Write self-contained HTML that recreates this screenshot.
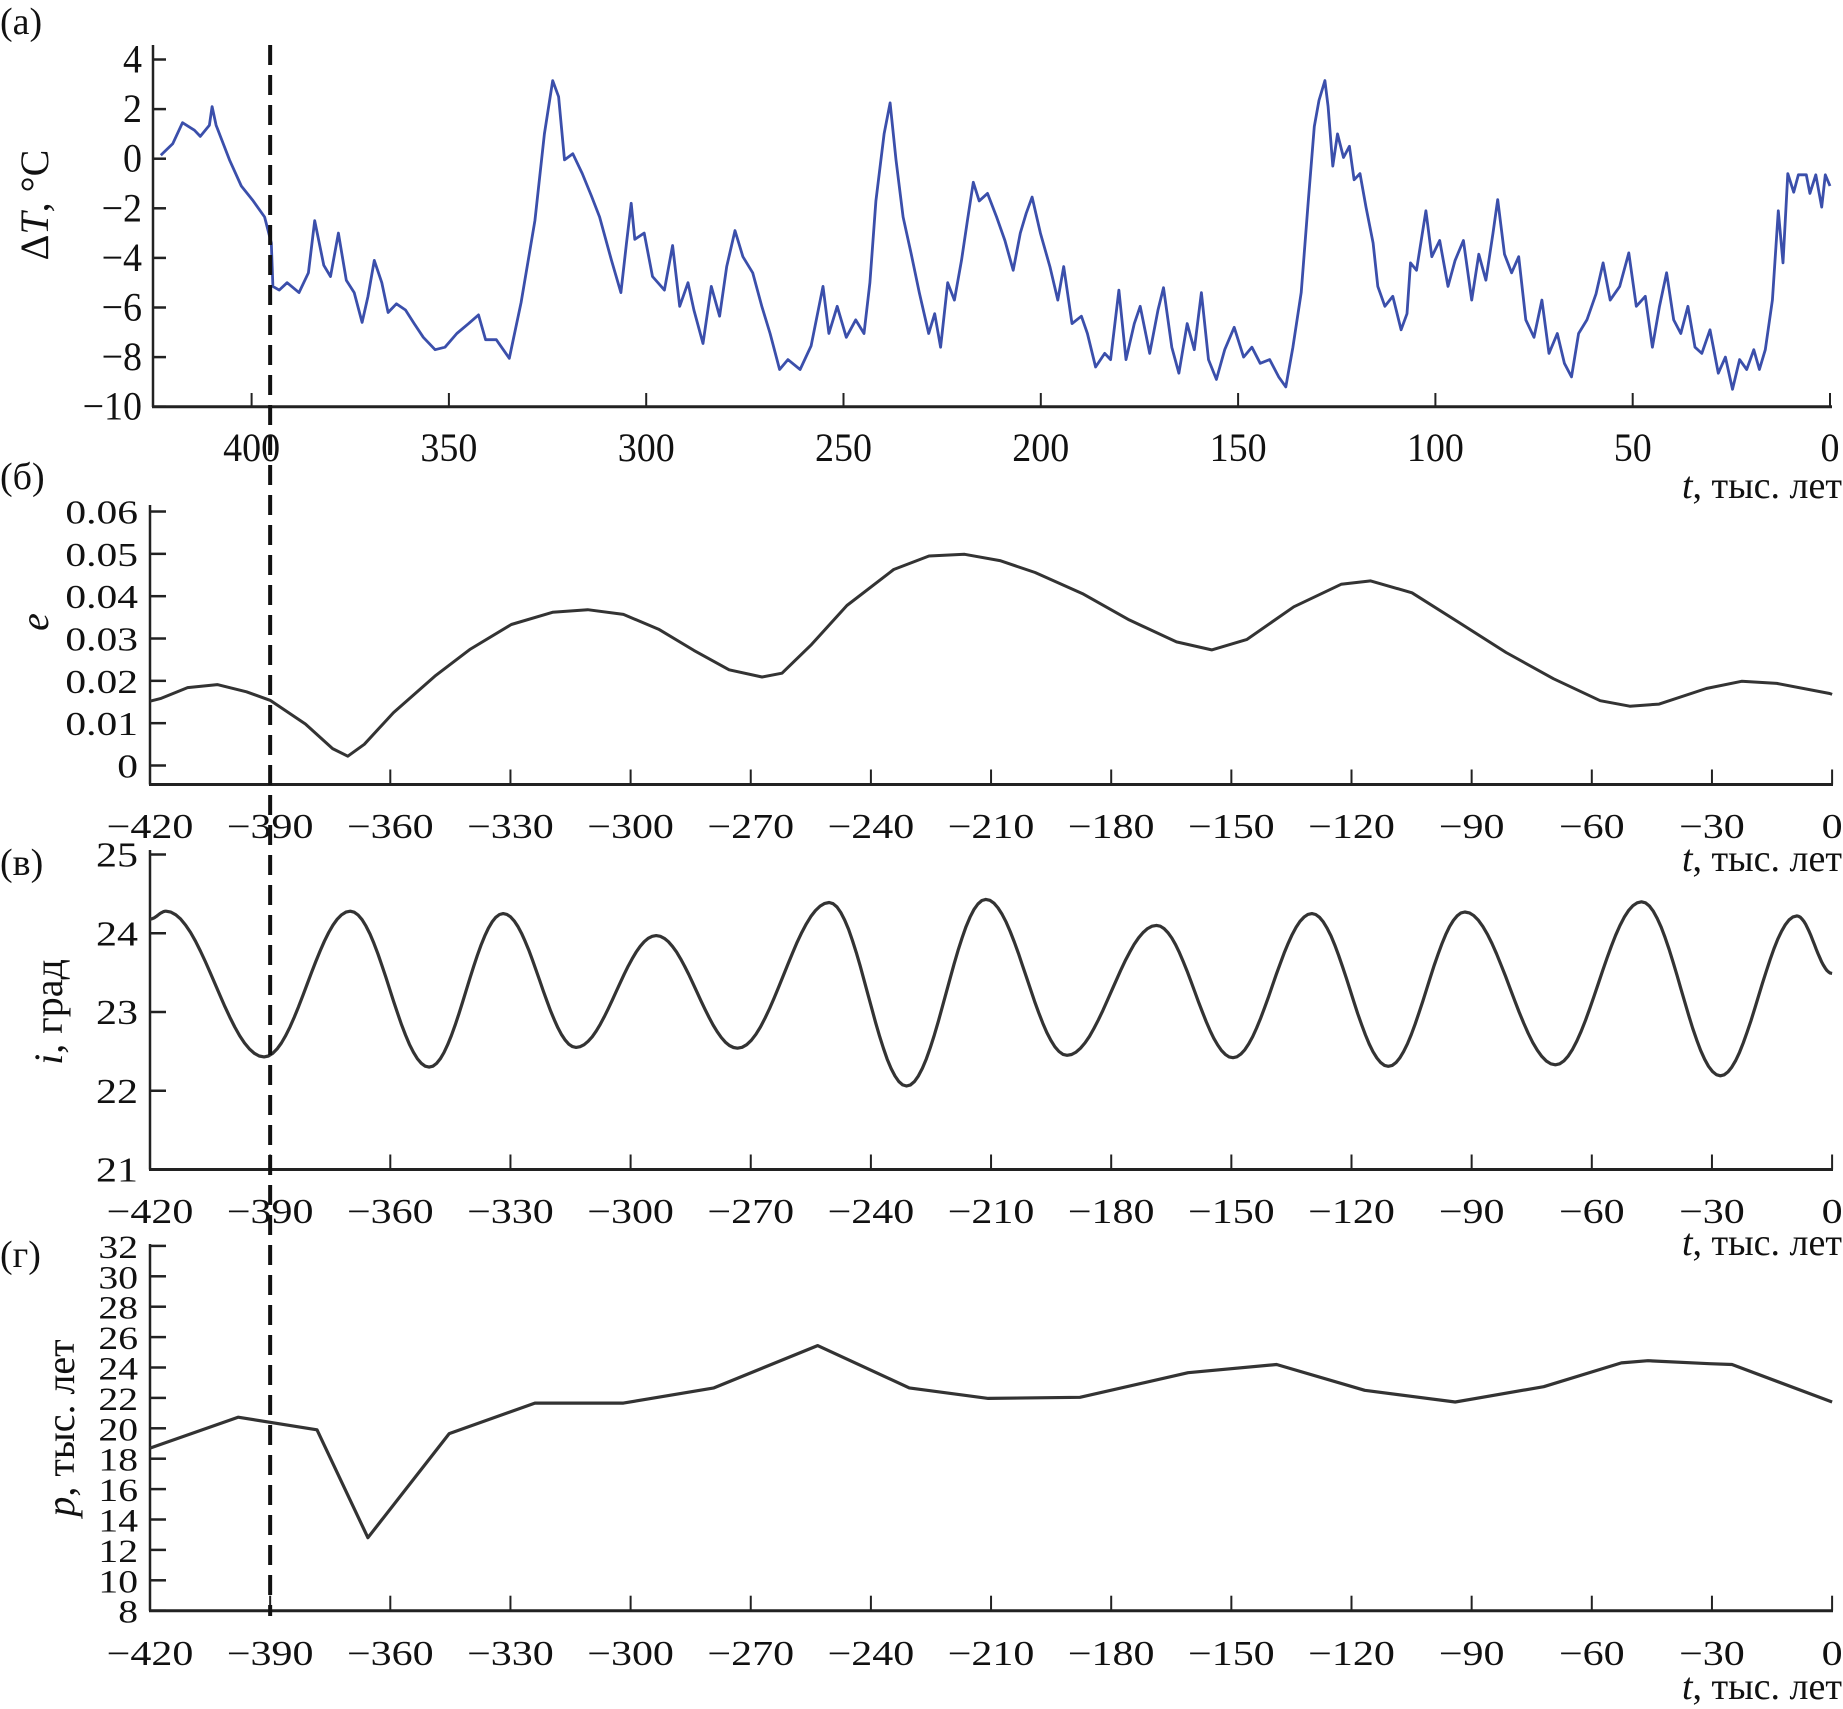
<!DOCTYPE html>
<html><head><meta charset="utf-8"><style>
html,body{margin:0;padding:0;background:#fff;}
svg{display:block;}
text{font-family:"Liberation Serif",serif;fill:#111;}
</style></head><body>
<svg id="fig" width="1843" height="1709" viewBox="0 0 1843 1709" xmlns="http://www.w3.org/2000/svg"></svg>
<script>
// Panel (а): Vostok temperature anomaly, ages in kyr BP
const ageA=[423,420,417.5,414.5,413,410.7,410,409,405.6,402.6,399.6,396.7,395,394.6,393,391,388,385.6,384,381.7,380,378,376,374,372,370.5,368.9,367,365.4,363.3,361,358.8,356.5,353.5,351,348,345,342.5,340.7,338,334.7,331.7,328.2,325.8,323.7,322.2,320.7,318.6,316.2,313.9,311.8,308.8,306.4,305,303.8,302.9,300.5,298.4,295.4,293.3,291.5,289.4,287.9,285.6,283.5,281.4,279.6,277.5,275.5,273,270.7,268.6,266.2,264.1,261,258.2,255.2,253.7,251.6,249.3,246.9,244.8,243.3,241.8,239.7,238.2,236.7,234.9,232.9,230.8,228.4,226.9,225.4,223.6,221.9,220.1,218.6,217.1,215.6,213.5,211.2,209.1,207,205.2,203.7,202.2,200.1,197.7,195.7,194.2,192.1,189.7,188.2,186.1,183.8,182.3,180.2,178.4,176.3,174.8,172.4,170.3,168.9,166.8,165,162.9,161.1,159.3,157.5,155.5,153.4,151,148.6,146.5,144.4,142,139.7,137.9,136.1,134,132.2,130.7,129.5,128,127.2,126,124.8,123.3,121.8,120.6,119.1,117.6,115.8,114.6,112.8,110.8,108.7,107.2,106.3,104.8,102.4,100.9,98.9,96.8,95,92.9,90.8,89,87.2,85.4,84.2,82.5,80.7,78.9,77.1,75,73,71.2,69.1,67.3,65.5,63.7,61.6,59.3,57.5,55.7,53.3,51,49.1,46.8,45,43.2,41.4,39.6,37.8,36,34.2,32.5,30.4,28.3,26.5,24.7,22.9,21.1,19.3,17.9,16.4,14.6,13.1,11.9,10.7,9.2,8,6,5.1,3.6,2.1,1.2,0];
const tempA=[0.14,0.6,1.45,1.15,0.9,1.35,2.1,1.35,-0.05,-1.1,-1.7,-2.35,-3.4,-5.15,-5.3,-5.0,-5.4,-4.6,-2.5,-4.3,-4.75,-3.0,-4.9,-5.4,-6.6,-5.55,-4.1,-5.0,-6.2,-5.85,-6.1,-6.65,-7.2,-7.7,-7.6,-7.05,-6.65,-6.3,-7.3,-7.3,-8.05,-5.8,-2.5,1.0,3.15,2.5,-0.05,0.2,-0.6,-1.5,-2.35,-4.1,-5.4,-3.4,-1.8,-3.25,-3.0,-4.75,-5.3,-3.5,-5.95,-5.0,-6.1,-7.45,-5.15,-6.35,-4.35,-2.9,-3.95,-4.6,-5.95,-7.05,-8.5,-8.1,-8.5,-7.55,-5.15,-7.05,-5.95,-7.2,-6.5,-7.05,-5.0,-1.7,1.0,2.25,-0.05,-2.35,-3.8,-5.4,-7.05,-6.25,-7.6,-5.0,-5.7,-4.1,-2.5,-0.95,-1.7,-1.4,-2.35,-3.3,-4.5,-3.0,-2.2,-1.55,-3.0,-4.35,-5.7,-4.35,-6.65,-6.35,-7.05,-8.4,-7.85,-8.1,-5.3,-8.1,-6.65,-5.95,-7.85,-6.1,-5.2,-7.6,-8.65,-6.65,-7.7,-5.4,-8.1,-8.9,-7.7,-6.8,-8.0,-7.6,-8.25,-8.1,-8.8,-9.2,-7.6,-5.4,-1.7,1.3,2.35,3.15,2.1,-0.3,1.0,0.05,0.5,-0.85,-0.6,-1.95,-3.4,-5.15,-5.95,-5.55,-6.9,-6.25,-4.2,-4.5,-2.1,-3.95,-3.3,-5.15,-4.1,-3.3,-5.7,-3.85,-4.9,-3.0,-1.65,-3.85,-4.6,-3.95,-6.5,-7.2,-5.7,-7.85,-7.05,-8.25,-8.8,-7.05,-6.5,-5.45,-4.2,-5.7,-5.15,-3.8,-5.95,-5.55,-7.6,-5.95,-4.6,-6.5,-7.05,-5.95,-7.6,-7.85,-6.9,-8.65,-8.0,-9.3,-8.1,-8.5,-7.7,-8.5,-7.7,-5.7,-2.1,-4.2,-0.6,-1.35,-0.65,-0.65,-1.4,-0.65,-1.95,-0.65,-1.1];
const ticksAX=[400,350,300,250,200,150,100,50,0];
const ticksAY=[4,2,0,-2,-4,-6,-8,-10];
// Panel (б): eccentricity
const tB=[-420,-417.4,-410.6,-403.2,-395.9,-390,-381.2,-374.4,-370.6,-366.5,-359.2,-348.9,-340,-329.8,-319.5,-310.7,-301.8,-293,-284.2,-275.4,-267.2,-262.2,-254.8,-246,-234.3,-225.5,-216.6,-207.8,-199,-187.2,-175.5,-163.7,-154.9,-146.1,-134.4,-122.6,-115.2,-104.9,-93.2,-81.4,-69.6,-57.9,-50.5,-43.2,-31.4,-22.6,-13.8,-0.6,0];
const eB=[0.0152,0.0158,0.0184,0.0191,0.0174,0.0154,0.0098,0.0040,0.0022,0.0050,0.0125,0.0211,0.0275,0.0333,0.0362,0.0368,0.0357,0.0322,0.0272,0.0226,0.0209,0.0218,0.0286,0.0378,0.0463,0.0495,0.0499,0.0484,0.0456,0.0406,0.0344,0.0292,0.0273,0.0298,0.0375,0.0428,0.0436,0.0408,0.0338,0.0267,0.0205,0.0153,0.0140,0.0145,0.0182,0.0199,0.0194,0.0170,0.0168];
const ticksT=[-420,-390,-360,-330,-300,-270,-240,-210,-180,-150,-120,-90,-60,-30,0];
const ticksBY=[0.06,0.05,0.04,0.03,0.02,0.01,0];
// Panel (в): obliquity extrema
const tC=[-420,-416,-391.5,-370,-350.3,-331.8,-313.6,-293.6,-273.3,-250.4,-231.1,-211.3,-191,-168.7,-149.6,-129.9,-110.8,-91.7,-69.1,-47.6,-27.9,-8.8,0];
const iC=[24.18,24.28,22.43,24.28,22.3,24.25,22.55,23.97,22.54,24.39,22.06,24.43,22.45,24.1,22.42,24.25,22.31,24.27,22.33,24.4,22.19,24.22,23.49];
const ticksCY=[25,24,23,22,21];
// Panel (г): precession
const tD=[-420,-398,-378.3,-365.6,-345.3,-323.9,-301.8,-279.2,-253.3,-230.4,-210.7,-187.8,-160.8,-138.7,-116.7,-94.1,-72,-52.6,-46,-30.6,-25,0];
const pD=[18.7,20.73,19.9,12.8,19.65,21.66,21.66,22.66,25.44,22.66,21.97,22.04,23.66,24.2,22.5,21.73,22.74,24.3,24.45,24.25,24.2,21.73];
const ticksDY=[32,30,28,26,24,22,20,18,16,14,12,10,8];

const NS="http://www.w3.org/2000/svg";
const svg=document.getElementById('fig');
function mk(tag,attrs,parent){const e=document.createElementNS(NS,tag);for(const k in attrs)e.setAttribute(k,attrs[k]);(parent||svg).appendChild(e);return e;}
function txt(s,x,y,size,anchor,sx,parent,italic){
  const e=mk('text',{x:0,y:0,'font-size':size,'text-anchor':anchor,transform:`translate(${x},${y}) scale(${sx},1)`},parent);
  if(italic)e.setAttribute('font-style','italic');
  e.textContent=s;return e;}
function fmtT(v){return v<0?'\u2212'+(-v):String(v);}

const xA=a=>1830-a*3.946;
const xT=t=>150+(t+420)*4.005;
const yA=v=>406.7-(v+10)*24.8;
const yB=v=>765.5-v*4233;
const yC=v=>1169.5-(v-21)*78.75;
const yD=v=>1610.7-(v-8)*15.2;

function panelLabel(s,x,y,name){const e=txt(s,x,y,38,'start',1,null,false);

}
function xTitle(y,name){const g=mk('g',{});


const e=mk('text',{x:1842,y:y,'font-size':38,'text-anchor':'end'},g);
const ts=mk('tspan',{'font-style':'italic'},e);ts.textContent='t';
const t2=mk('tspan',{},e);t2.textContent=', тыс. лет';}

// ---------- Panel а ----------
{
const g=mk('g',{});


mk('line',{x1:153,y1:45,x2:153,y2:407,stroke:'#222','stroke-width':2.5},g);
mk('line',{x1:152,y1:406.7,x2:1832,y2:406.7,stroke:'#222','stroke-width':3},g);
ticksAY.forEach(v=>{const y=yA(v);
  const l=mk('line',{x1:153,y1:y,x2:166,y2:y,stroke:'#222','stroke-width':2.5},g);
  
  
  const t=txt(fmtT(v),142,y+13,40,'end',0.95,g);
  
  });
ticksAX.forEach(v=>{const x=xA(v);
  mk('line',{x1:x,y1:406.7,x2:x,y2:393,stroke:'#222','stroke-width':2},g);
  const t=txt(String(v),x,461,40,'middle',0.95,g);
  
  });
let d='';ageA.forEach((a,i)=>{d+=(i?'L':'M')+xA(a).toFixed(1)+','+yA(tempA[i]).toFixed(1);});
const p=mk('path',{d:d,fill:'none',stroke:'#3b4fab','stroke-width':2.8,'stroke-linejoin':'round'},g);


const yt=mk('text',{x:0,y:0,'font-size':40,'text-anchor':'middle',transform:'translate(48,205) rotate(-90)'},g);


const a1=mk('tspan',{},yt);a1.textContent='Δ';
const a2=mk('tspan',{'font-style':'italic'},yt);a2.textContent='T';
const a3=mk('tspan',{},yt);a3.textContent=', °C';
}
panelLabel('(а)',0,34,'panel-label-a');
panelLabel('(б)',0,489,'panel-label-b');
xTitle(498,'x-axis-title-a');

function bottomAxis(g,yAxis,yTop,yLab,name){
  mk('line',{x1:150,y1:yTop,x2:150,y2:yAxis,stroke:'#222','stroke-width':2.5},g);
  mk('line',{x1:149,y1:yAxis,x2:1833,y2:yAxis,stroke:'#222','stroke-width':3},g);
  ticksT.forEach(v=>{const x=xT(v);
    mk('line',{x1:x,y1:yAxis,x2:x,y2:yAxis-15,stroke:'#222','stroke-width':2},g);
    const t=txt(fmtT(v),x,yLab,35,'middle',1.2,g);
    
    });
}
function yTicks(g,arr,ys,fmt,size,sx,name){
  arr.forEach(v=>{const y=ys(v);
    mk('line',{x1:150,y1:y,x2:166,y2:y,stroke:'#222','stroke-width':2.5},g);
    const t=txt(fmt(v),138,y+12,size,'end',sx,g);
    
    });
}

// ---------- Panel б ----------
{
const g=mk('g',{});


bottomAxis(g,784.5,505,838,'x-tick-label-b');
yTicks(g,ticksBY,yB,v=>v===0?'0':v.toFixed(2),34,1.22,'y-tick-label-b');
let d='';tB.forEach((t,i)=>{d+=(i?'L':'M')+xT(t).toFixed(1)+','+yB(eB[i]).toFixed(1);});
const p=mk('path',{d:d,fill:'none',stroke:'#333','stroke-width':3,'stroke-linejoin':'round'},g);


const yt=mk('text',{x:0,y:0,'font-size':40,'font-style':'italic','text-anchor':'middle',transform:'translate(48,622) rotate(-90)'},g);
yt.textContent='e';


}
xTitle(871,'x-axis-title-b');
panelLabel('(в)',0,875,'panel-label-c');

// ---------- Panel в ----------
{
const g=mk('g',{});


bottomAxis(g,1169.5,850,1223,'x-tick-label-c');
yTicks(g,ticksCY,yC,v=>String(v),35,1.2,'y-tick-label-c');
let d='M'+xT(tC[0]).toFixed(1)+','+yC(iC[0]).toFixed(1);
for(let i=1;i<tC.length;i++){
  const t0=tC[i-1],t1=tC[i],v0=iC[i-1],v1=iC[i];
  for(let k=1;k<=20;k++){const f=k/20;const s=(1-Math.cos(Math.PI*f))/2;
    d+='L'+xT(t0+(t1-t0)*f).toFixed(1)+','+yC(v0+(v1-v0)*s).toFixed(1);}
}
const p=mk('path',{d:d,fill:'none',stroke:'#333','stroke-width':3.2,'stroke-linejoin':'round'},g);


const yt=mk('text',{x:0,y:0,'font-size':40,'text-anchor':'middle',transform:'translate(62,1012) rotate(-90)'},g);


const b1=mk('tspan',{'font-style':'italic'},yt);b1.textContent='i';
const b2=mk('tspan',{},yt);b2.textContent=', град';
}
xTitle(1255,'x-axis-title-c');
panelLabel('(г)',0,1267,'panel-label-d');

// ---------- Panel г ----------
{
const g=mk('g',{});


bottomAxis(g,1610.7,1244,1665,'x-tick-label-d');
yTicks(g,ticksDY,yD,v=>String(v),33,1.2,'y-tick-label-d');
let d='';tD.forEach((t,i)=>{d+=(i?'L':'M')+xT(t).toFixed(1)+','+yD(pD[i]).toFixed(1);});
const p=mk('path',{d:d,fill:'none',stroke:'#333','stroke-width':3.2,'stroke-linejoin':'round'},g);


const yt=mk('text',{x:0,y:0,'font-size':40,'text-anchor':'middle',transform:'translate(74,1428) rotate(-90)'},g);


const c1=mk('tspan',{'font-style':'italic'},yt);c1.textContent='p';
const c2=mk('tspan',{},yt);c2.textContent=', тыс. лет';
}
xTitle(1699,'x-axis-title-d');

const dl=mk('line',{x1:xT(-390),y1:45,x2:xT(-390),y2:1616,stroke:'#111','stroke-width':4,'stroke-dasharray':'20 10'});


</script>
</body></html>
